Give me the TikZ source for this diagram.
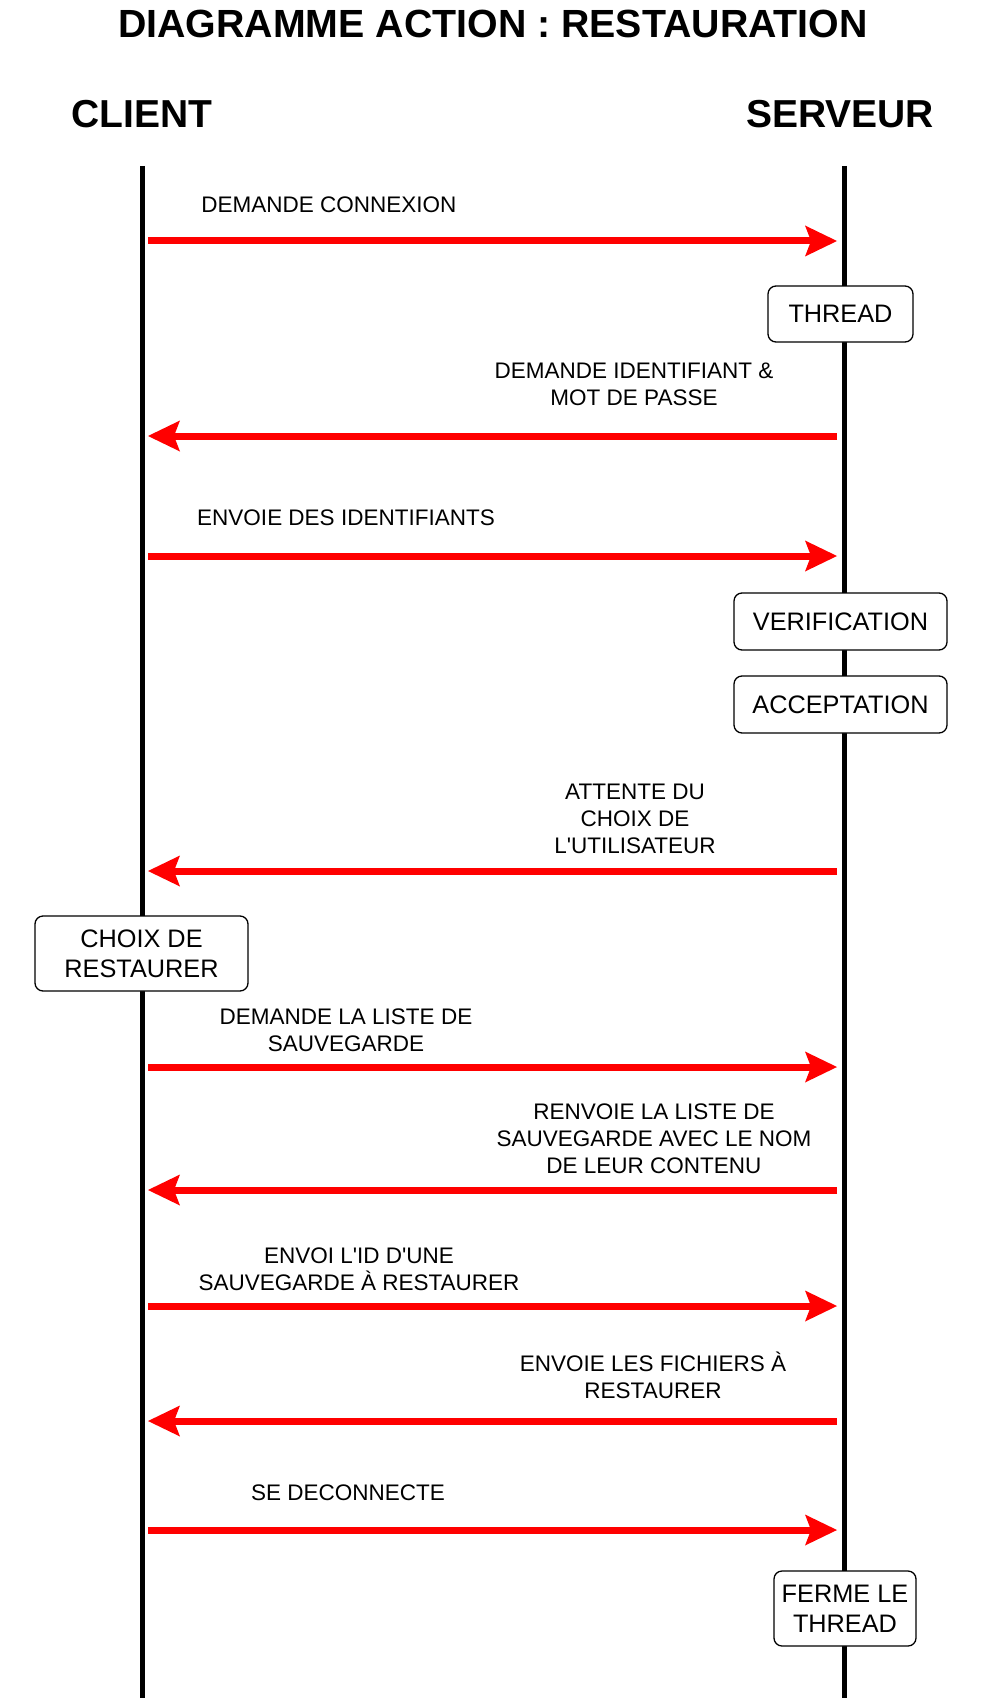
\documentclass[tikz,border=0pt]{standalone}
\usepackage{fontspec}
\setmainfont{Liberation Sans}[Ligatures=TeXOff]
\usetikzlibrary{arrows.meta}
\tikzset{
  lifeline/.style={line width=5pt, black},
  msg/.style={line width=7pt, red, -{Stealth[length=32pt, width=31pt, inset=6pt, line width=0pt]}},
  lbl/.style={inner sep=0pt, align=center, font=\fontsize{22.5}{27}\selectfont},
  boxnode/.style={draw=black, fill=white, line width=1.3pt, rounded corners=8pt, align=center, inner sep=0pt, font=\fontsize{25.3}{30}\selectfont},
  headline/.style={inner sep=0pt, font=\bfseries\fontsize{39}{47}\selectfont}
}
\begin{document}
\begin{tikzpicture}[x=1pt, y=-1pt]
\useasboundingbox (0,0) rectangle (984,1704);
\fill[white] (0,0) rectangle (984,1704);

% headings
\node[headline, font=\bfseries\fontsize{39.3}{47}\selectfont] (title) at (493,24) {DIAGRAMME ACTION : RESTAURATION};
\node[headline] (client) at (142,114) {CLIENT};
\node[headline] (serveur) at (840,114) {SERVEUR};

% lifelines
\coordinate (ctop) at (142,166);
\coordinate (cbot) at (142,1698);
\coordinate (stop) at (844,166);
\coordinate (sbot) at (844,1698);
\draw[lifeline] (ctop) -- (cbot);
\draw[lifeline] (stop) -- (sbot);

% boxes
\node[boxnode, minimum width=145pt, minimum height=56pt] (thread) at (840.5,314) {THREAD};
\node[boxnode, minimum width=213pt, minimum height=57pt] (verif) at (840.5,621.5) {VERIFICATION};
\node[boxnode, minimum width=213pt, minimum height=57pt] (accept) at (840.5,704.5) {ACCEPTATION};
\node[boxnode, minimum width=213pt, minimum height=75pt] (choix) at (141.5,953.5) {CHOIX DE\\RESTAURER};
\node[boxnode, minimum width=142pt, minimum height=75pt] (ferme) at (845,1608.5) {FERME LE\\THREAD};

% message end points
\coordinate (c1) at (148,241);  \coordinate (s1) at (837,241);
\coordinate (c2) at (148,436);  \coordinate (s2) at (837,436);
\coordinate (c3) at (148,556);  \coordinate (s3) at (837,556);
\coordinate (c4) at (148,871);  \coordinate (s4) at (837,871);
\coordinate (c5) at (148,1067); \coordinate (s5) at (837,1067);
\coordinate (c6) at (148,1190); \coordinate (s6) at (837,1190);
\coordinate (c7) at (148,1306); \coordinate (s7) at (837,1306);
\coordinate (c8) at (148,1421); \coordinate (s8) at (837,1421);
\coordinate (c9) at (148,1530); \coordinate (s9) at (837,1530);

\draw[msg] (c1) -- (s1);
\draw[msg] (s2) -- (c2);
\draw[msg] (c3) -- (s3);
\draw[msg] (s4) -- (c4);
\draw[msg] (c5) -- (s5);
\draw[msg] (s6) -- (c6);
\draw[msg] (c7) -- (s7);
\draw[msg] (s8) -- (c8);
\draw[msg] (c9) -- (s9);

% labels
\node[lbl] (l1) at (329,205) {DEMANDE CONNEXION};
\node[lbl] (l2) at (634,384) {DEMANDE IDENTIFIANT \&\\MOT DE PASSE};
\node[lbl] (l3) at (346,518) {ENVOIE DES IDENTIFIANTS};
\node[lbl] (l4) at (635,818.5) {ATTENTE DU\\CHOIX DE\\L'UTILISATEUR};
\node[lbl] (l5) at (346,1030.5) {DEMANDE LA LISTE DE\\SAUVEGARDE};
\node[lbl] (l6) at (654,1138.5) {RENVOIE LA LISTE DE\\SAUVEGARDE AVEC LE NOM\\DE LEUR CONTENU};
\node[lbl] (l7) at (359,1269.5) {ENVOI L'ID D'UNE\\SAUVEGARDE À RESTAURER};
\node[lbl] (l8) at (653,1375) {ENVOIE LES FICHIERS À\\RESTAURER};
\node[lbl] (l9) at (348,1493) {SE DECONNECTE};
\end{tikzpicture}
\end{document}
